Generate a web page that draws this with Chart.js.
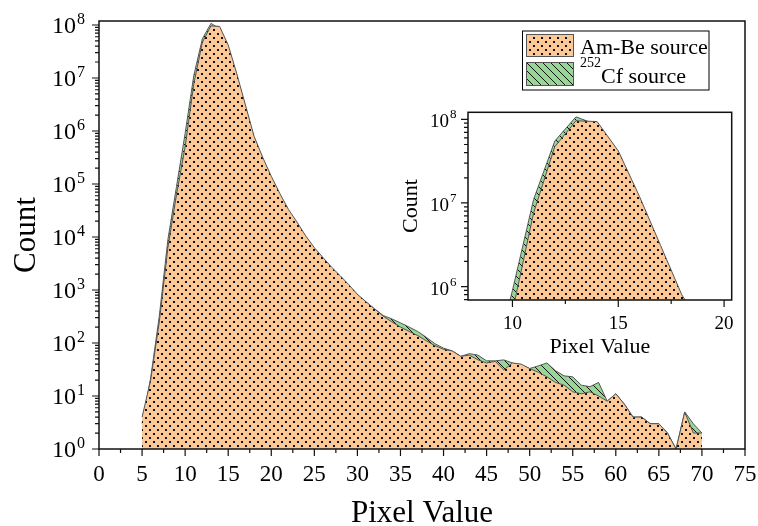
<!DOCTYPE html>
<html>
<head>
<meta charset="utf-8">
<script src="https://cdn.jsdelivr.net/npm/chart.js@4.4.1/dist/chart.umd.min.js"></script>
<style>
  html, body { margin: 0; padding: 0; background: #fff; }
  #wrap { position: relative; width: 758px; height: 526px; }
  #main { position: absolute; left: 0; top: 0; }
  #inset { position: absolute; left: 380px; top: 100px; }
</style>
</head>
<body>
<div id="wrap">
  <canvas id="main" width="758" height="526"></canvas>
  <canvas id="inset" width="370" height="265"></canvas>
</div>
<script>
// Pixel value histogram (counts per pixel value)
const pixelValues = [5, 6, 7, 8, 9, 10, 11, 12, 13, 14, 15, 16, 17, 18, 19, 20, 21, 22, 23, 24,
  25, 26, 27, 28, 29, 30, 31, 32, 33, 34, 35, 36, 37, 38, 39, 40, 41, 42, 43, 44,
  45, 46, 47, 48, 49, 50, 51, 52, 53, 54, 55, 56, 57, 58, 59, 60, 61, 62, 63, 64,
  65, 66, 67, 68, 69, 70];

const amBeCounts = [4, 20, 250, 6300, 63000, 500000, 7.6e6, 4.7e7, 9.6e7, 9.4e7,
  4.2e7, 1.2e7, 3.1e6, 8.0e5, 3.2e5, 1.4e5, 6.6e4, 3.3e4, 1.9e4, 1.05e4,
  6300, 4100, 2700, 1860, 1260, 830, 600, 440, 320, 250,
  200, 165, 138, 110, 89, 76, 71, 56, 59, 48,
  42, 45, 31, 42, 40, 33, 28, 23, 18, 16,
  12, 11, 12, 10, 8, 11, 7, 4, 4, 3,
  3, 2, 1, 5, 2, 2];

const cfCounts = [3, 22, 320, 9000, 90000, 900000, 1.1e7, 5.5e7, 1.07e8, 8.6e7,
  3.6e7, 1.05e7, 2.8e6, 7.2e5, 2.9e5, 1.27e5, 6.0e4, 3.0e4, 1.75e4, 9700,
  5800, 3800, 2500, 1750, 1200, 800, 590, 440, 330, 285,
  240, 200, 165, 128, 97, 80, 71, 56, 63, 59,
  46, 46, 48, 42, 38, 33, 37, 42, 30, 24,
  23, 16, 15, 18, 8, 11, 7, 4, 4, 3,
  3, 2, 1, 5, 3, 2];

// axis ticks
const mainXTicks = [0, 5, 10, 15, 20, 25, 30, 35, 40, 45, 50, 55, 60, 65, 70, 75];
const mainYDecades = [0, 1, 2, 3, 4, 5, 6, 7, 8];
const insetXTicks = [10, 15, 20];
const insetYDecades = [6, 7, 8];

const SERIF = '"Liberation Serif", "Times New Roman", serif';
const ORANGE = '#FCC896';
const GREEN = '#98D698';

function dotPattern() {
  const c = document.createElement('canvas');
  c.width = 8; c.height = 8;
  const g = c.getContext('2d');
  g.fillStyle = ORANGE; g.fillRect(0, 0, 8, 8);
  g.fillStyle = '#111';
  g.fillRect(1, 1, 2, 2);
  g.fillRect(5, 5, 2, 2);
  return g.createPattern(c, 'repeat');
}

function hatchPattern() {
  const c = document.createElement('canvas');
  c.width = 8; c.height = 8;
  const g = c.getContext('2d');
  g.fillStyle = GREEN; g.fillRect(0, 0, 8, 8);
  g.strokeStyle = '#111'; g.lineWidth = 1;
  g.beginPath();
  g.moveTo(-1, -1); g.lineTo(9, 9);
  g.moveTo(-1, 7); g.lineTo(1, 9);
  g.moveTo(7, -1); g.lineTo(9, 1);
  g.stroke();
  return g.createPattern(c, 'repeat');
}

const dots = dotPattern();
const hatch = hatchPattern();

function series(counts) {
  return counts.map((c, i) => ({ x: pixelValues[i], y: c }));
}

function datasets() {
  return [
    { label: 'Am-Be source', data: series(amBeCounts), backgroundColor: dots,
      borderColor: '#555', borderWidth: 1, fill: 'start' },
    { label: '252Cf source', data: series(cfCounts), backgroundColor: hatch,
      borderColor: '#555', borderWidth: 1, fill: 'start' }
  ];
}

// frame, ticks, labels drawn from the chart's own scales
function framePlugin(cfg) {
  return {
    id: 'frame',
    afterDatasetsDraw(chart) {
      const { ctx, chartArea: a, scales: { x, y } } = chart;
      ctx.save();
      ctx.strokeStyle = '#111';
      ctx.lineWidth = 1.5;
      ctx.strokeRect(a.left, a.top, a.right - a.left, a.bottom - a.top);

      ctx.lineWidth = 1.2;
      ctx.beginPath();
      cfg.xTicks.forEach(v => {
        const px = x.getPixelForValue(v);
        ctx.moveTo(px, a.bottom); ctx.lineTo(px, a.bottom + cfg.major);
        const m = v + cfg.xStep / 2;
        if (m <= x.max) {
          const pm = x.getPixelForValue(m);
          ctx.moveTo(pm, a.bottom); ctx.lineTo(pm, a.bottom + cfg.minor);
        }
      });
      const lo = Math.floor(Math.log10(y.min)), hi = Math.ceil(Math.log10(y.max));
      for (let n = lo; n <= hi; n++) {
        for (let k = 1; k <= 9; k++) {
          const v = k * Math.pow(10, n);
          if (v < y.min * 0.999 || v > y.max) continue;
          const py = y.getPixelForValue(v);
          ctx.moveTo(a.left, py); ctx.lineTo(a.left - (k === 1 ? cfg.major : cfg.minor), py);
        }
      }
      ctx.stroke();

      ctx.fillStyle = '#000';
      ctx.font = cfg.tickFont + 'px ' + SERIF;
      ctx.textAlign = 'center';
      ctx.textBaseline = 'alphabetic';
      cfg.xTicks.forEach(v => ctx.fillText(String(v), x.getPixelForValue(v), a.bottom + cfg.xLabelDy));

      cfg.yDecades.forEach(n => {
        const py = y.getPixelForValue(Math.pow(10, n));
        ctx.font = cfg.yTickFont + 'px ' + SERIF;
        ctx.textAlign = 'left';
        ctx.fillText('10', cfg.yLabelX, py + cfg.yBaseDy);
        const w = ctx.measureText('10').width;
        ctx.font = cfg.supFont + 'px ' + SERIF;
        ctx.fillText(String(n), cfg.yLabelX + w + 1, py + cfg.supDy);
      });

      ctx.font = cfg.titleFont + 'px ' + SERIF;
      ctx.textAlign = 'center';
      ctx.fillText('Pixel Value', (a.left + a.right) / 2, a.bottom + cfg.xTitleDy);
      ctx.save();
      ctx.translate(cfg.yTitleX, (a.top + a.bottom) / 2);
      ctx.rotate(-Math.PI / 2);
      ctx.textBaseline = 'middle';
      ctx.fillText('Count', 0, 0);
      ctx.restore();

      if (cfg.legend) drawLegend(ctx);
      ctx.restore();
    }
  };
}

function drawLegend(ctx) {
  ctx.fillStyle = '#fff';
  ctx.fillRect(522.5, 31, 186.5, 59);
  ctx.strokeStyle = '#000';
  ctx.lineWidth = 1;
  ctx.strokeRect(522.5, 31, 186.5, 59);

  ctx.fillStyle = dots;
  ctx.fillRect(526, 34, 48, 23);
  ctx.fillStyle = hatch;
  ctx.fillRect(526, 62, 48, 24);
  ctx.strokeStyle = '#555';
  ctx.strokeRect(526.5, 34.5, 47, 22);
  ctx.strokeRect(526.5, 62.5, 47, 23);

  ctx.fillStyle = '#000';
  ctx.textAlign = 'left';
  ctx.textBaseline = 'alphabetic';
  ctx.font = '22px ' + SERIF;
  ctx.fillText('Am-Be source', 580, 53.5);
  ctx.font = '14px ' + SERIF;
  ctx.fillText('252', 580, 67);
  const w = ctx.measureText('252').width;
  ctx.font = '22px ' + SERIF;
  ctx.fillText('Cf source', 580 + w, 83);
}

const baseOptions = {
  responsive: false,
  animation: false,
  elements: { point: { radius: 0 }, line: { tension: 0 } },
  plugins: { legend: { display: false }, tooltip: { enabled: false } }
};

new Chart(document.getElementById('main'), {
  type: 'line',
  data: { datasets: datasets() },
  options: {
    ...baseOptions,
    layout: { padding: { left: 99, top: 21, right: 13, bottom: 77 } },
    scales: {
      x: { type: 'linear', min: 0, max: 75, display: false },
      y: { type: 'logarithmic', min: 1, max: Math.pow(10, 8.075), display: false }
    }
  },
  plugins: [framePlugin({
    xTicks: mainXTicks, xStep: 5, yDecades: mainYDecades,
    major: 7, minor: 4, tickFont: 23, yTickFont: 24, supFont: 16,
    xLabelDy: 32, yLabelX: 52, yBaseDy: 8, supDy: -1,
    titleFont: 31, xTitleDy: 73, yTitleX: 27, legend: true
  })]
});

new Chart(document.getElementById('inset'), {
  type: 'line',
  data: { datasets: datasets() },
  options: {
    ...baseOptions,
    layout: { padding: { left: 88, top: 12.3, right: 18.3, bottom: 65 } },
    scales: {
      x: { type: 'linear', min: 7.9, max: 20.36, display: false },
      y: { type: 'logarithmic', min: Math.pow(10, 5.84), max: Math.pow(10, 8.084), display: false }
    }
  },
  plugins: [framePlugin({
    xTicks: insetXTicks, xStep: 5, yDecades: insetYDecades,
    major: 7, minor: 4, tickFont: 19, yTickFont: 19, supFont: 13,
    xLabelDy: 29, yLabelX: 50, yBaseDy: 8, supDy: -1,
    titleFont: 22, xTitleDy: 53, yTitleX: 31, legend: false
  })]
});
</script>
</body>
</html>
